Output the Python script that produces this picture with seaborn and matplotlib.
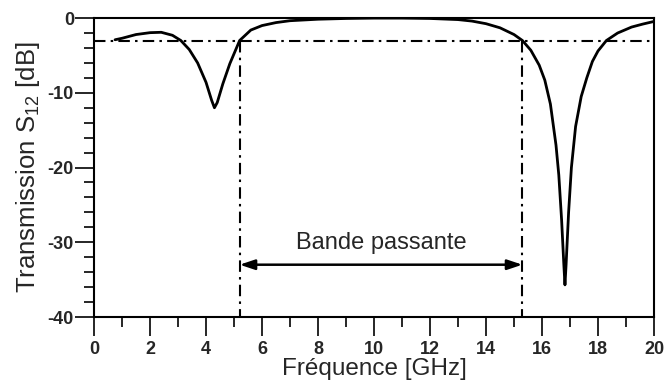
import numpy as np
import pandas as pd
import matplotlib
matplotlib.use("Agg")
import matplotlib.pyplot as plt
from matplotlib.ticker import MultipleLocator
import seaborn as sns

# frequence (GHz) et transmission S12 (dB)
freq = [0.75, 1.0, 1.5, 2.0, 2.4, 2.8, 3.1, 3.4, 3.7, 4.0, 4.2, 4.3, 4.4,
        4.6, 4.85, 5.2, 5.6, 6.0, 6.5, 7.0, 8.0, 9.0, 10.0, 11.0, 12.0, 13.0,
        13.5, 14.0, 14.5, 15.0, 15.3, 15.6, 15.9, 16.1, 16.3, 16.5, 16.6, 16.7,
        16.78, 16.82, 16.86, 16.95, 17.05, 17.2, 17.4, 17.6, 17.8, 18.0, 18.3,
        18.7, 19.2, 19.6, 20.0]
s12 = [-2.9, -2.7, -2.2, -1.95, -1.9, -2.3, -3.0, -4.2, -6.0, -8.6, -11.0,
       -12.0, -11.3, -8.8, -6.1, -3.0, -1.6, -1.0, -0.6, -0.35, -0.15, -0.05,
       0.0, 0.0, -0.05, -0.2, -0.4, -0.75, -1.3, -2.2, -3.0, -4.3, -6.3, -8.3,
       -11.5, -17.0, -21.0, -27.0, -33.0, -35.7, -33.0, -26.0, -20.0, -14.5,
       -10.5, -8.0, -5.8, -4.4, -3.0, -2.0, -1.2, -0.8, -0.45]

niveau_3db = -3.0
f_bas, f_haut = 5.2, 15.3
y_fleche = -33.0
y_texte = -30.1
label_bande = "Bande passante"

sns.set_style("ticks")
plt.rcParams["font.family"] = ["Liberation Sans", "DejaVu Sans"]
plt.rcParams["axes.unicode_minus"] = False
plt.rcParams["mathtext.fontset"] = "custom"
plt.rcParams["mathtext.rm"] = "Liberation Sans"

df = pd.DataFrame({"f": freq, "s12": s12})

fig = plt.figure(figsize=(6.67, 3.85), dpi=100)
ax = fig.add_axes([0.141, 0.1766, 0.8395, 0.7764])

sns.lineplot(data=df, x="f", y="s12", ax=ax, color="black", lw=2.0)

dashdot = (0, (5.5, 2.5, 1.2, 2.5))
ax.plot([0, 20], [niveau_3db, niveau_3db], color="black", lw=1.5, ls=dashdot)
ax.plot([f_bas, f_bas], [niveau_3db, -40], color="black", lw=1.5, ls=dashdot)
ax.plot([f_haut, f_haut], [niveau_3db, -40], color="black", lw=1.5, ls=dashdot)

ax.annotate("", xy=(f_bas, y_fleche), xytext=(f_haut, y_fleche),
            arrowprops=dict(arrowstyle="<|-|>,head_length=0.9,head_width=0.3",
                            color="black", lw=1.8, shrinkA=0, shrinkB=0))
ax.text((f_bas + f_haut) / 2, y_texte, label_bande, ha="center", va="center",
        fontsize=17)

ax.set_xlim(0, 20)
ax.set_ylim(-40, 0)
ax.xaxis.set_major_locator(MultipleLocator(2))
ax.xaxis.set_minor_locator(MultipleLocator(1))
ax.yaxis.set_major_locator(MultipleLocator(10))
ax.yaxis.set_minor_locator(MultipleLocator(2))
ax.tick_params(which="major", direction="out", length=13.5, width=1.4,
               labelsize=13)
ax.tick_params(axis="x", which="major", pad=4)
ax.tick_params(axis="y", which="major", pad=1)
ax.tick_params(which="minor", direction="out", length=7, width=1.4)
for lab in ax.get_xticklabels() + ax.get_yticklabels():
    lab.set_fontweight("bold")

for sp in ax.spines.values():
    sp.set_linewidth(1.5)
    sp.set_color("black")

ax.set_xlabel("Fréquence [GHz]", fontsize=17.5, labelpad=0)
ax.set_ylabel(r"Transmission S$_{12}$ [dB]", fontsize=18.5, labelpad=4)

fig.savefig("out.png", dpi=100)
